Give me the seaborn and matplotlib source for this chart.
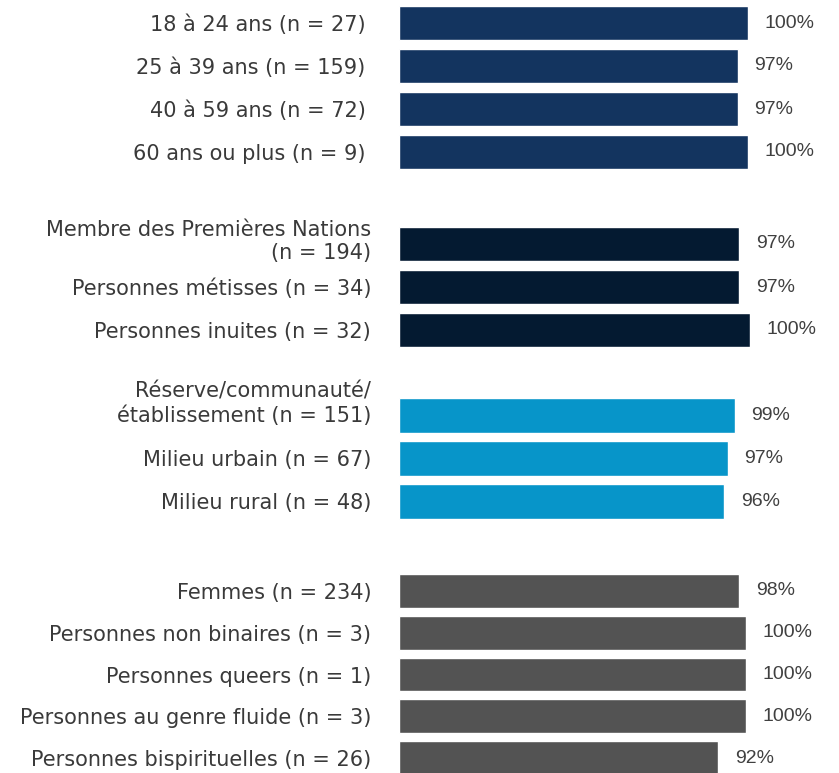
import matplotlib
matplotlib.use("Agg")
import matplotlib.pyplot as plt
import matplotlib.transforms as mtransforms
import seaborn as sns

# groups of the chart, top to bottom
age_labels = ["18 à 24 ans (n = 27)", "25 à 39 ans (n = 159)", "40 à 59 ans (n = 72)", "60 ans ou plus (n = 9)"]
age_values = [100, 97, 97, 100]

identity_labels = ["Membre des Premières Nations\n(n = 194)", "Personnes métisses (n = 34)", "Personnes inuites (n = 32)"]
identity_values = [97, 97, 100]

location_labels = ["Réserve/communauté/\nétablissement (n = 151)", "Milieu urbain (n = 67)", "Milieu rural (n = 48)"]
location_values = [99, 97, 96]

gender_labels = [
    "Femmes (n = 234)",
    "Personnes non binaires (n = 3)",
    "Personnes queers (n = 1)",
    "Personnes au genre fluide (n = 3)",
    "Personnes bispirituelles (n = 26)",
]
gender_values = [98, 100, 100, 100, 92]

W, H = 839, 773
LABEL_FONT = "DejaVu Sans"
VALUE_FONT = "Liberation Sans"

sns.set_style("white")
fig = plt.figure(figsize=(W / 100, H / 100), dpi=100)

# (labels, values, color, top px, bottom px, bar-axis width px, label pad pt)
panels = [
    (age_labels, age_values, "#13345f", 1.5, 173.5, 349, 24),
    (identity_labels, identity_values, "#041a31", 222.5, 351.5, 351, 20),
    (location_labels, location_values, "#0795c9", 393.5, 523.0, 339, 20),
    (gender_labels, gender_values, "#535353", 570.0, 779.0, 347, 20),
]

# nudge for the two-line labels (inches, upward)
lift = {"Membre": 0.06, "Réserve": 0.15}

for labels, values, color, top, bottom, width, pad in panels:
    ax = fig.add_axes([399 / W, 1 - bottom / H, width / W, (bottom - top) / H])
    sns.barplot(x=values, y=labels, orient="h", color=color, saturation=1,
                width=0.81, ax=ax)
    ax.set_xlim(0, 100)
    ax.set_xlabel("")
    ax.set_ylabel("")
    ax.set_xticks([])
    sns.despine(ax=ax, left=True, bottom=True)
    ax.tick_params(axis="y", length=0, pad=pad)
    for lab in ax.get_yticklabels():
        lab.set_fontfamily(LABEL_FONT)
        lab.set_fontsize(15)
        lab.set_color("#3a3a3a")
        for key, dy in lift.items():
            if lab.get_text().startswith(key):
                lab.set_transform(lab.get_transform()
                                  + mtransforms.ScaledTranslation(0, dy, fig.dpi_scale_trans))
    for i, v in enumerate(values):
        ax.annotate(f"{v}%", xy=(v, i), xytext=(12, 0), textcoords="offset points",
                    ha="left", va="center", fontsize=14, color="#404040",
                    family=VALUE_FONT, annotation_clip=False)

fig.savefig("out.png", dpi=100)
